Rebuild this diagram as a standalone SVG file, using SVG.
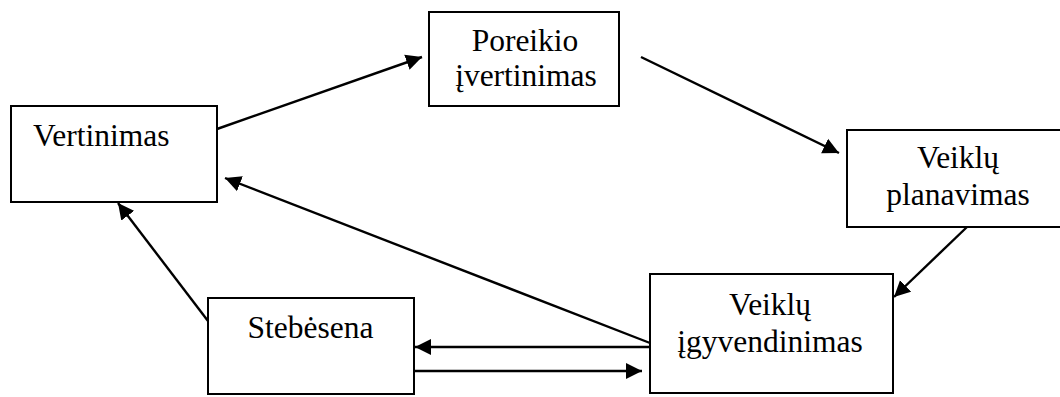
<svg xmlns="http://www.w3.org/2000/svg" width="1060" height="397" viewBox="0 0 1060 397">
  <style>
    .box { fill: #fff; stroke: #000; stroke-width: 2; }
    .lbl { font-family: "Liberation Serif", "Times New Roman", serif; font-size: 31.5px; fill: #000; }
    .c { text-anchor: middle; }
    .conn { stroke: #000; stroke-width: 2.4; fill: none; marker-end: url(#ah); }
  </style>
  <defs>
    <marker id="ah" markerUnits="userSpaceOnUse" markerWidth="17" markerHeight="17" viewBox="0 0 17 17" refX="16" refY="8.5" orient="auto">
      <path d="M0,0.5 L16,8.5 L0,16.5 Z" fill="#000"/>
    </marker>
  </defs>
  <rect width="1060" height="397" fill="#fff"/>
  <g id="vertinimas">
    <rect class="box" x="11" y="106" width="206" height="96"/>
    <text class="lbl" x="33" y="146">Vertinimas</text>
  </g>
  <g id="poreikio">
    <rect class="box" x="429" y="12" width="190" height="94"/>
    <text class="lbl c" x="525" y="51">Poreikio</text>
    <text class="lbl c" x="526" y="86">įvertinimas</text>
  </g>
  <g id="planavimas">
    <rect class="box" x="847" y="130" width="222" height="97"/>
    <text class="lbl c" x="958" y="168">Veiklų</text>
    <text class="lbl c" x="958" y="205">planavimas</text>
  </g>
  <g id="igyvendinimas">
    <rect class="box" x="650" y="274" width="243" height="119"/>
    <text class="lbl c" x="770" y="315">Veiklų</text>
    <text class="lbl c" x="770" y="352">įgyvendinimas</text>
  </g>
  <g id="stebesena">
    <rect class="box" x="208" y="298" width="206" height="96"/>
    <text class="lbl c" x="310.5" y="338">Stebėsena</text>
  </g>
  <g id="connectors">
    <line class="conn" x1="217" y1="129" x2="422" y2="57"/>
    <line class="conn" x1="641" y1="57" x2="839" y2="153"/>
    <line class="conn" x1="967" y1="227" x2="894" y2="297"/>
    <line class="conn" x1="650" y1="343" x2="225" y2="178"/>
    <line class="conn" x1="208" y1="321" x2="118" y2="203"/>
    <line class="conn" x1="650" y1="347" x2="415" y2="347"/>
    <line class="conn" x1="414" y1="371" x2="642" y2="371"/>
  </g>
</svg>
